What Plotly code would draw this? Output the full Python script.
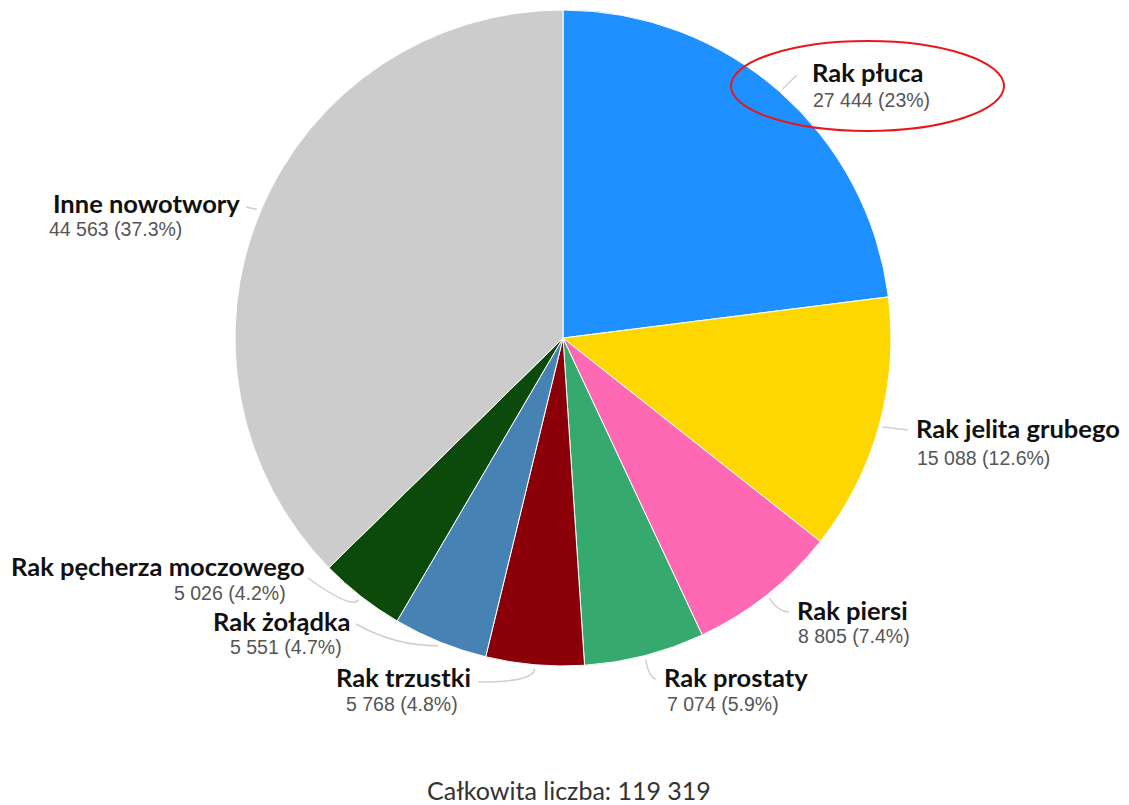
import math
import plotly.graph_objects as go

# ---- data ----
labels = ["Rak płuca", "Rak jelita grubego", "Rak piersi", "Rak prostaty",
          "Rak trzustki", "Rak żołądka", "Rak pęcherza moczowego", "Inne nowotwory"]
values = [27444, 15088, 8805, 7074, 5768, 5551, 5026, 44563]
value_texts = ["27 444 (23%)", "15 088 (12.6%)", "8 805 (7.4%)", "7 074 (5.9%)",
               "5 768 (4.8%)", "5 551 (4.7%)", "5 026 (4.2%)", "44 563 (37.3%)"]
colors = ["#1E90FF", "#FFD700", "#FF69B4", "#36A96E",
          "#8B0008", "#4682B4", "#0B4A0B", "#CCCCCC"]
total_text = "Całkowita liczba: 119 319"

# ---- layout (pixel geometry) ----
W, H = 1129, 805
CX, CY, R = 563, 338, 328

def px(x):
    return x / W

def py(y):
    return 1 - y / H

# per-label layout: (title x, title anchor, title y, value x, value anchor, value y,
#                    leader control point or None, leader end)
label_layout = [
    (811, "left", 72, 812, "left", 100, None, (797, 75)),
    (915, "left", 428, 916, "left", 458, None, (908, 430)),
    (796, "left", 610, 797, "left", 636, (778, 612), (789, 612)),
    (663, "left", 677, 666, "left", 704, (649, 678), (656, 679)),
    (472, "right", 677, 459, "right", 704, (535, 682), (478, 682)),
    (351, "right", 621, 343, "right", 647, (395, 646), (356, 624)),
    (306, "right", 566, 287, "right", 593, (352, 610), (308, 578)),
    (241, "right", 203, 183, "right", 229, None, (246, 207)),
]

fig = go.Figure()
fig.add_trace(go.Pie(
    labels=labels, values=values, sort=False, direction="clockwise", rotation=0,
    marker=dict(colors=colors, line=dict(color="#FFFFFF", width=1)),
    textinfo="none", hoverinfo="label+value+percent", showlegend=False,
    domain=dict(x=[px(CX - R), px(CX + R)], y=[py(CY + R), py(CY - R)]),
))

total = sum(values)
cum = 0
shapes = []
annotations = []
for lab, val, vt, lay in zip(labels, values, value_texts, label_layout):
    mid = (cum + val / 2) / total * 2 * math.pi
    cum += val
    tx, ta, ty, vx, va, vy, ctrl, end = lay
    sx = CX + (R + 4) * math.sin(mid)
    sy = CY - (R + 4) * math.cos(mid)
    if ctrl is None:
        path = f"M {px(sx)},{py(sy)} L {px(end[0])},{py(end[1])}"
    else:
        path = (f"M {px(sx)},{py(sy)} Q {px(ctrl[0])},{py(ctrl[1])} "
                f"{px(end[0])},{py(end[1])}")
    shapes.append(dict(type="path", path=path, xref="paper", yref="paper",
                       line=dict(color="#CFCFCF", width=1.5)))
    annotations.append(dict(x=px(tx), y=py(ty), xref="paper", yref="paper",
                            text=f"<b>{lab}</b>", showarrow=False,
                            xanchor=ta, yanchor="middle", borderpad=0,
                            font=dict(family="Lato", size=25.5, color="#111111")))
    annotations.append(dict(x=px(vx), y=py(vy), xref="paper", yref="paper",
                            text=vt, showarrow=False,
                            xanchor=va, yanchor="middle", borderpad=0,
                            font=dict(family="Liberation Sans", size=19.5, color="#555555")))

annotations.append(dict(x=px(569), y=py(790), xref="paper", yref="paper",
                        text=total_text, showarrow=False,
                        xanchor="center", yanchor="middle",
                        font=dict(family="Lato", size=25, color="#333333")))

# red highlight ellipse around "Rak płuca"
shapes.append(dict(type="circle", xref="paper", yref="paper",
                   x0=px(731), x1=px(1004), y0=py(131), y1=py(41),
                   line=dict(color="#E8171C", width=2)))

fig.update_layout(
    width=W, height=H, margin=dict(l=0, r=0, t=0, b=0),
    paper_bgcolor="white", plot_bgcolor="white",
    shapes=shapes, annotations=annotations,
)

fig.write_html("out.html")
